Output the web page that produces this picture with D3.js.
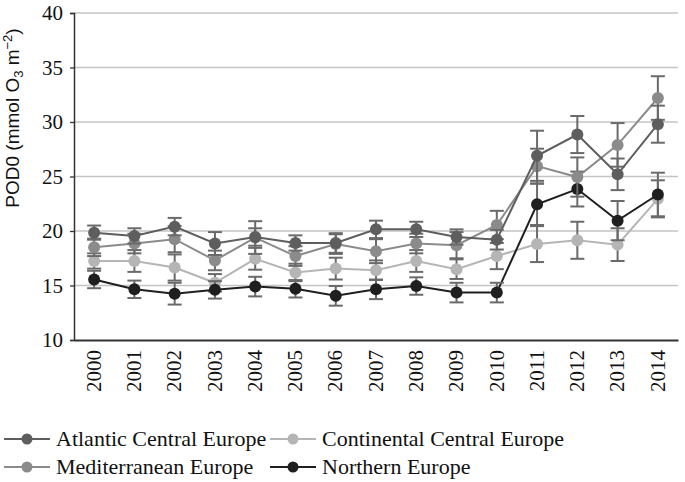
<!DOCTYPE html>
<html><head><meta charset="utf-8">
<script src="https://cdn.jsdelivr.net/npm/d3@7"></script>
<style>
svg text.serif{font-family:'Liberation Serif' !important;}
svg text.sans{font-family:'Liberation Sans' !important;}
</style>
</head><body style="margin:0">
<svg id="c" width="685" height="482" style="display:block"></svg>
<script>
const years = ["2000","2001","2002","2003","2004","2005","2006","2007","2008","2009","2010","2011","2012","2013","2014"];
const yTicks = [10,15,20,25,30,35,40];
const seriesNames = ["Atlantic Central Europe","Continental Central Europe","Mediterranean Europe","Northern Europe"];
const atlantic    = [19.85,19.55,20.4,18.85,19.45,18.9,18.9,20.15,20.15,19.45,19.2,26.9,28.85,25.2,29.8];
const atlanticErr = [0.65,0.7,0.8,1.05,0.8,0.7,0.9,0.8,0.7,0.7,0.9,2.3,1.7,1.45,1.7];
const continental    = [17.25,17.25,16.65,15.25,17.45,16.2,16.55,16.4,17.25,16.5,17.7,18.8,19.15,18.75,22.95];
const continentalErr = [0.7,1.0,1.2,0.8,1.0,0.8,1.0,0.9,1.0,0.9,1.2,1.65,1.7,1.5,1.7];
const mediterranean    = [18.5,18.85,19.25,17.3,19.4,17.7,18.8,18.15,18.85,18.7,20.55,25.95,24.95,27.9,32.2];
const mediterraneanErr = [0.8,0.9,1.2,0.9,1.5,0.9,0.9,1.1,0.9,1.2,1.3,1.6,1.8,2.0,2.0];
const northern    = [15.55,14.65,14.25,14.6,14.9,14.7,14.05,14.65,14.95,14.35,14.35,22.45,23.85,20.95,23.35];
const northernErr = [0.8,0.8,1.0,0.8,0.9,0.8,0.9,0.9,0.8,0.9,0.9,1.9,1.6,1.8,2.0];

const colors = {"Atlantic Central Europe":"#5e5e5e","Continental Central Europe":"#b5b5b5","Mediterranean Europe":"#8b8b8b","Northern Europe":"#1f1f1f"};
const dataMap = {
  "Atlantic Central Europe":[atlantic,atlanticErr],
  "Continental Central Europe":[continental,continentalErr],
  "Mediterranean Europe":[mediterranean,mediterraneanErr],
  "Northern Europe":[northern,northernErr]
};
const drawOrder = ["Continental Central Europe","Northern Europe","Mediterranean Europe","Atlantic Central Europe"];

const svg = d3.select("#c");
const m = {l:74,r:678,t:13,b:340};
const x = d3.scaleBand().domain(years).range([m.l,m.r]);
const y = d3.scaleLinear().domain([10,40]).range([m.b,m.t]);

function serif(sel, size){
  sel.classed("serif",true).attr("font-family","Liberation Serif").attr("font-size",size)
     .style("font-family","'Liberation Serif'","important").style("font-size",size+"px","important");
}

// gridlines
svg.append("g").selectAll("line").data(yTicks.filter(t=>t>10)).join("line")
  .attr("x1",m.l).attr("x2",m.r).attr("y1",d=>y(d)).attr("y2",d=>y(d))
  .attr("stroke","#c4c4c4").attr("stroke-width",1.3);

// y axis
const ya = svg.append("g").attr("transform",`translate(${m.l},0)`)
  .call(d3.axisLeft(y).tickValues(yTicks).tickSize(4).tickPadding(7));
ya.attr("font-family","Liberation Serif").attr("font-size",21);
ya.select(".domain").attr("stroke","#333").attr("stroke-width",1.5);
ya.selectAll(".tick line").attr("stroke","#333").attr("stroke-width",1.3);
ya.selectAll("text").call(serif,21).attr("fill","#111");

// x axis
const xa = svg.append("g").attr("transform",`translate(0,${m.b})`)
  .call(d3.axisBottom(x).tickSize(0).tickPadding(10));
xa.attr("font-family","Liberation Serif").attr("font-size",21);
xa.select(".domain").attr("stroke","#333").attr("stroke-width",1.8);
xa.selectAll("text").call(serif,21).attr("fill","#111")
  .attr("transform","rotate(-90)").attr("text-anchor","end").attr("y",0).attr("x",-10).attr("dy","0.32em");

// y title
const yt = svg.append("text").attr("class","sans").attr("transform","translate(19,118) rotate(-90)")
  .attr("text-anchor","middle").attr("font-family","Liberation Sans").attr("font-size",19)
  .style("font-family","'Liberation Sans'","important").style("font-size","19px","important").attr("fill","#111");
yt.append("tspan").text("POD0 (mmol O");
yt.append("tspan").style("font-size","13px","important").attr("dy",4).text("3");
yt.append("tspan").attr("dy",-4).text(" m");
yt.append("tspan").style("font-size","13px","important").attr("dy",-7).text("−2");
yt.append("tspan").attr("dy",7).text(")");

const cx = d=>x(d)+x.bandwidth()/2;
const line = d3.line().x((d,i)=>cx(years[i])).y(d=>y(d));

drawOrder.forEach(name=>{
  const [vals,errs] = dataMap[name];
  const g = svg.append("g");
  g.append("path").datum(vals).attr("d",line).attr("fill","none").attr("stroke",colors[name]).attr("stroke-width",2);
  const eb = g.append("g").selectAll("g").data(vals.map((v,i)=>({v,e:errs[i],yr:years[i]}))).join("g");
  eb.append("line").attr("x1",d=>cx(d.yr)).attr("x2",d=>cx(d.yr)).attr("y1",d=>y(d.v-d.e)).attr("y2",d=>y(d.v+d.e))
    .attr("stroke","#6a6a6a").attr("stroke-width",2);
  [-1,1].forEach(s=>{
    eb.append("line").attr("x1",d=>cx(d.yr)-7).attr("x2",d=>cx(d.yr)+7)
      .attr("y1",d=>y(d.v+s*d.e)).attr("y2",d=>y(d.v+s*d.e)).attr("stroke","#6a6a6a").attr("stroke-width",2);
  });
  g.append("g").selectAll("circle").data(vals).join("circle")
    .attr("cx",(d,i)=>cx(years[i])).attr("cy",d=>y(d)).attr("r",6).attr("fill",colors[name]);
});

// legend
const legendPos = [
  {name:"Atlantic Central Europe",x:4,y:439},
  {name:"Continental Central Europe",x:270,y:439},
  {name:"Mediterranean Europe",x:4,y:467},
  {name:"Northern Europe",x:270,y:467}
];
const lg = svg.append("g").selectAll("g").data(legendPos).join("g").attr("transform",d=>`translate(${d.x},${d.y})`);
lg.append("line").attr("x1",0).attr("x2",46).attr("stroke",d=>colors[d.name]).attr("stroke-width",2);
lg.append("circle").attr("cx",23).attr("r",5.5).attr("fill",d=>colors[d.name]);
lg.append("text").attr("x",52).attr("dy","0.33em").call(serif,22).attr("fill","#111").text(d=>d.name);
</script>
</body></html>
